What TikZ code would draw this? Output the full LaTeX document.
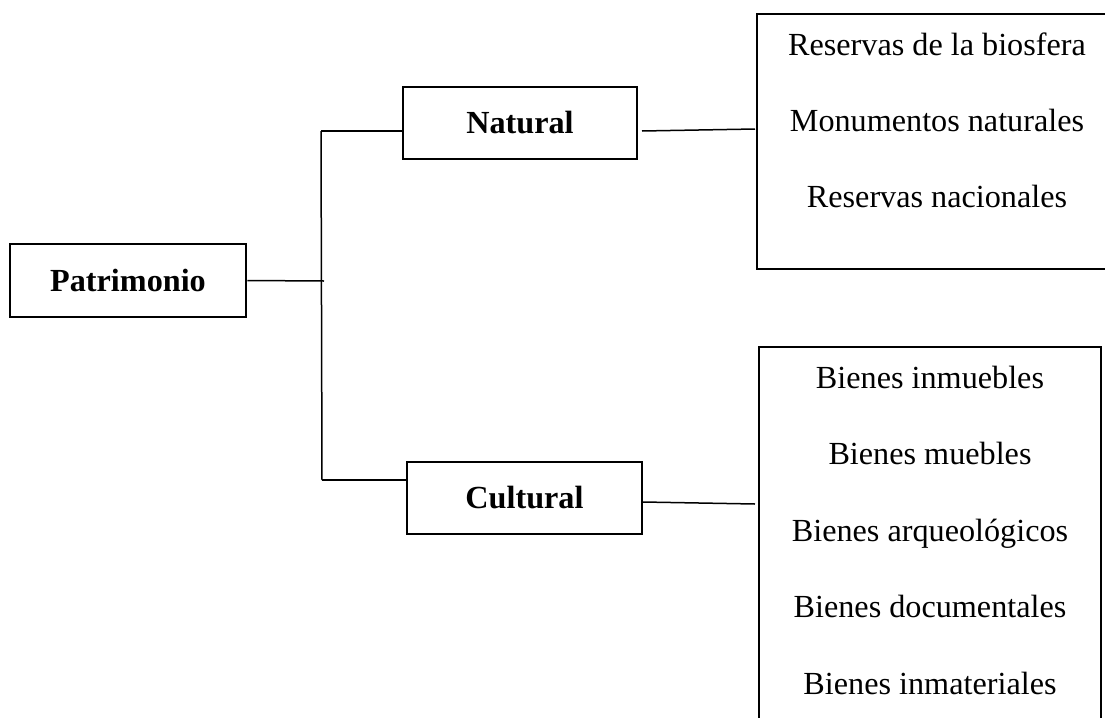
\documentclass[tikz,border=0pt]{standalone}
\usepackage{fontspec}
\setmainfont{Liberation Serif}
\begin{document}
\begin{tikzpicture}[x=0.5pt,y=-0.5pt,
	caja/.style={draw,line width=1.3pt,rectangle,inner sep=0pt,font=\fontsize{16.1}{19}\selectfont\bfseries},
	lista/.style={draw,line width=1.2pt,rectangle,inner sep=0pt},
	item/.style={anchor=base,inner sep=0pt,font=\fontsize{16.1}{19}\selectfont},
	conn/.style={line width=0.75pt}]
			\useasboundingbox (0,0) rectangle (1105,718);
			\node[caja,minimum width=118pt,minimum height=36.5pt] (patrimonio) at (128,280.5) {Patrimonio};
			\node[caja,minimum width=117pt,minimum height=36pt] (natural) at (520,123) {Natural};
			\node[caja,minimum width=117.5pt,minimum height=36pt] (cultural) at (524.5,498) {Cultural};
			\node[lista,minimum width=180pt,minimum height=127.5pt] (naturales) at (937,141.5) {};
			\node[lista,minimum width=171pt,minimum height=200pt] (culturales) at (930,547) {};
			% elementos de cada lista
			\node[item] (n1) at (937,55) {Reservas de la biosfera};
			\node[item] (n2) at (937,131) {Monumentos naturales};
			\node[item] (n3) at (937,207) {Reservas nacionales};
			\foreach \t [count=\i] in {Bienes inmuebles,Bienes muebles,Bienes arqueológicos,Bienes documentales,Bienes inmateriales}{
				\node[item] (c\i) at (930,311.5+76.5*\i) {\t};
			}
			% arbol
			\coordinate (jtop) at (321,131);
			\coordinate (jbot) at (322,480);
			\coordinate (jmid) at (324,281);
			\coordinate (na) at (642,131);
			\coordinate (nb) at (755,129);
			\coordinate (ca) at (643,502);
			\coordinate (cb) at (755,504);
			\draw[conn] (jtop)--(jbot);
			\draw[conn] (patrimonio.east)--(jmid);
			\draw[conn] (jtop)--(jtop-|natural.west);
			\draw[conn] (jbot)--(jbot-|cultural.west);
			\draw[conn] (na)--(nb);
			\draw[conn] (ca)--(cb);
			\end{tikzpicture}
\end{document}
